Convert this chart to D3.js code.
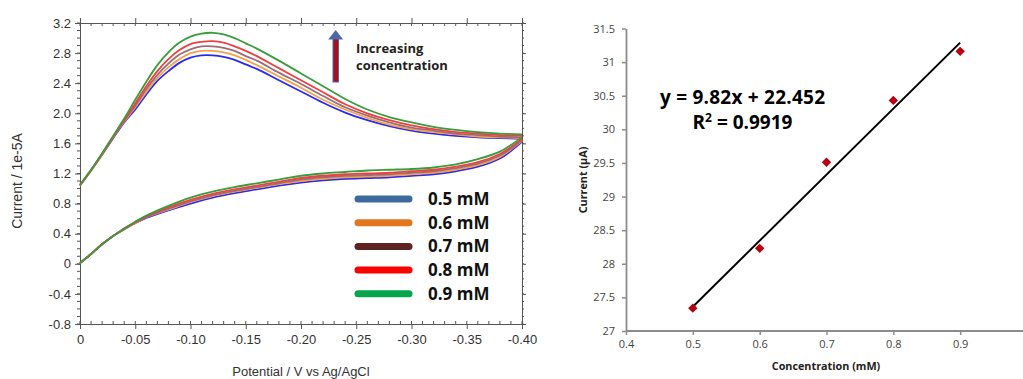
<!DOCTYPE html>
<html>
<head>
<meta charset="utf-8">
<script src="https://cdn.jsdelivr.net/npm/d3@7"></script>
<style>
  html, body { margin: 0; padding: 0; background: #fff; }
  svg { display: block; }
</style>
</head>
<body>
<svg id="fig" width="1023" height="379"></svg>
<script>
// ---------- Cyclic voltammograms (left panel) ----------
const concentrations = ["0.5 mM", "0.6 mM", "0.7 mM", "0.8 mM", "0.9 mM"];

// forward (anodic) sweep potentials, V
const forwardPotential = [0, -0.01, -0.02, -0.03, -0.04, -0.05, -0.06, -0.07, -0.08, -0.09, -0.10,
  -0.11, -0.12, -0.13, -0.14, -0.15, -0.16, -0.18, -0.20, -0.22, -0.24, -0.26, -0.28, -0.30,
  -0.32, -0.34, -0.36, -0.38, -0.40];
// reverse sweep potentials, V
const reversePotential = [-0.40, -0.39, -0.38, -0.36, -0.34, -0.32, -0.30, -0.28, -0.26, -0.24,
  -0.22, -0.20, -0.18, -0.16, -0.14, -0.12, -0.10, -0.08, -0.06, -0.05, -0.04, -0.03, -0.02, -0.01, 0];

// current, 1e-5 A, forward sweep
const forward05 = [1.04, 1.24, 1.45, 1.67, 1.88, 2.05, 2.25, 2.43, 2.56, 2.67, 2.74, 2.77, 2.77, 2.75, 2.71, 2.65, 2.59, 2.44, 2.29, 2.14, 2.01, 1.91, 1.83, 1.77, 1.73, 1.70, 1.68, 1.67, 1.66];
const forward06 = [1.04, 1.24, 1.45, 1.68, 1.89, 2.08, 2.28, 2.47, 2.61, 2.72, 2.80, 2.83, 2.83, 2.81, 2.77, 2.71, 2.64, 2.49, 2.34, 2.18, 2.05, 1.94, 1.85, 1.79, 1.75, 1.72, 1.69, 1.68, 1.67];
const forward07 = [1.04, 1.24, 1.46, 1.68, 1.90, 2.10, 2.32, 2.51, 2.66, 2.78, 2.85, 2.89, 2.89, 2.87, 2.83, 2.76, 2.70, 2.54, 2.39, 2.23, 2.08, 1.97, 1.88, 1.81, 1.77, 1.73, 1.71, 1.69, 1.68];
const forward08 = [1.05, 1.25, 1.46, 1.69, 1.91, 2.13, 2.36, 2.56, 2.72, 2.84, 2.92, 2.95, 2.96, 2.94, 2.89, 2.83, 2.76, 2.60, 2.44, 2.28, 2.12, 2.00, 1.91, 1.84, 1.79, 1.75, 1.73, 1.71, 1.70];
const forward09 = [1.05, 1.25, 1.47, 1.70, 1.93, 2.18, 2.42, 2.64, 2.81, 2.94, 3.02, 3.06, 3.07, 3.05, 3.00, 2.93, 2.86, 2.70, 2.53, 2.36, 2.19, 2.05, 1.95, 1.88, 1.82, 1.78, 1.75, 1.73, 1.72];

// current, 1e-5 A, reverse sweep
const reverse05 = [1.62, 1.50, 1.40, 1.29, 1.23, 1.19, 1.17, 1.15, 1.14, 1.13, 1.11, 1.08, 1.04, 0.99, 0.94, 0.88, 0.80, 0.71, 0.61, 0.54, 0.46, 0.37, 0.26, 0.13, 0.01];
const reverse06 = [1.63, 1.52, 1.42, 1.31, 1.25, 1.21, 1.19, 1.17, 1.16, 1.15, 1.13, 1.10, 1.06, 1.01, 0.96, 0.90, 0.82, 0.72, 0.62, 0.54, 0.46, 0.37, 0.26, 0.13, 0.01];
const reverse07 = [1.64, 1.53, 1.44, 1.33, 1.27, 1.23, 1.21, 1.19, 1.18, 1.17, 1.15, 1.12, 1.07, 1.02, 0.97, 0.91, 0.83, 0.73, 0.62, 0.55, 0.46, 0.37, 0.26, 0.13, 0.01];
const reverse08 = [1.66, 1.55, 1.46, 1.35, 1.29, 1.25, 1.23, 1.21, 1.20, 1.19, 1.17, 1.14, 1.09, 1.04, 0.99, 0.93, 0.85, 0.75, 0.63, 0.55, 0.47, 0.37, 0.26, 0.13, 0.01];
const reverse09 = [1.68, 1.58, 1.49, 1.39, 1.32, 1.28, 1.26, 1.25, 1.24, 1.22, 1.20, 1.17, 1.12, 1.07, 1.02, 0.96, 0.88, 0.77, 0.64, 0.56, 0.47, 0.37, 0.26, 0.13, 0.01];

const cvTickLabelsX = ["0", "-0.05", "-0.10", "-0.15", "-0.20", "-0.25", "-0.30", "-0.35", "-0.40"];
const cvTickLabelsY = ["-0.8", "-0.4", "0", "0.4", "0.8", "1.2", "1.6", "2.0", "2.4", "2.8", "3.2"];

// ---------- Calibration (right panel) ----------
const calConcentration = [0.5, 0.6, 0.7, 0.8, 0.9];   // mM
const calCurrent = [27.34, 28.23, 29.51, 30.43, 31.16]; // µA
const fitSlope = 9.82;
const fitIntercept = 22.452;
const fitR2 = "0.9919";
const calTickLabelsX = ["0.4", "0.5", "0.6", "0.7", "0.8", "0.9"];
const calTickLabelsY = ["27", "27.5", "28", "28.5", "29", "29.5", "30", "30.5", "31", "31.5"];

// ================================================================
const svg = d3.select("#fig");

// ---------------- left panel ----------------
const curveColors = ["#2a2af2", "#f2a24a", "#9c6c78", "#ee4040", "#3a9c3a"];
const legendColors = ["#3d6a9c", "#e2761f", "#5e2222", "#ff0000", "#05a54c"];
const forwardSets = [forward05, forward06, forward07, forward08, forward09];
const reverseSets = [reverse05, reverse06, reverse07, reverse08, reverse09];

const xL = d3.scaleLinear().domain([0, -0.40]).range([80, 522]);
const yL = d3.scaleLinear().domain([-0.8, 3.2]).range([324, 23]);
const axisColor = "#555";
const cvFont = "'Liberation Sans', Arial, sans-serif";

const left = svg.append("g");

const xMajor = cvTickLabelsX.map(s => +s);
const yMajor = cvTickLabelsY.map(s => +s);
const xMinor = d3.range(0, 41).map(i => -i * 0.01);
const yMinor = d3.range(0, 41).map(i => -0.8 + i * 0.1);

// bottom axis
const bottomAxis = left.append("g").attr("transform", `translate(0,${yL(-0.8)})`)
  .call(d3.axisBottom(xL).tickValues(xMajor).tickSize(5)
    .tickFormat((d, i) => cvTickLabelsX[i]).tickPadding(4));
bottomAxis.selectAll("text").attr("font-size", 13).attr("font-family", cvFont).attr("fill", "#333").attr("dy", "0.85em");
left.append("g").selectAll("line").data(xMinor).join("line")
  .attr("x1", d => xL(d)).attr("x2", d => xL(d))
  .attr("y1", yL(-0.8)).attr("y2", yL(-0.8) - 3)
  .attr("stroke", axisColor);

// top axis
left.append("g").attr("transform", `translate(0,${yL(3.2)})`)
  .call(d3.axisTop(xL).tickValues(xMajor).tickSize(5).tickFormat(""));
left.append("g").selectAll("line").data(xMinor).join("line")
  .attr("x1", d => xL(d)).attr("x2", d => xL(d))
  .attr("y1", yL(3.2)).attr("y2", yL(3.2) + 3)
  .attr("stroke", axisColor);

// left axis
const leftAxis = left.append("g").attr("transform", `translate(${xL(0)},0)`)
  .call(d3.axisLeft(yL).tickValues(yMajor).tickSize(5)
    .tickFormat((d, i) => cvTickLabelsY[i]).tickPadding(4));
leftAxis.selectAll("text").attr("font-size", 13).attr("font-family", cvFont).attr("fill", "#333");
left.append("g").selectAll("line").data(yMinor).join("line")
  .attr("x1", xL(0)).attr("x2", xL(0) - 3)
  .attr("y1", d => yL(d)).attr("y2", d => yL(d))
  .attr("stroke", axisColor);

// right axis
left.append("g").attr("transform", `translate(${xL(-0.40)},0)`)
  .call(d3.axisRight(yL).tickValues(yMajor).tickSize(4).tickFormat(""));
left.append("g").selectAll("line").data(yMinor).join("line")
  .attr("x1", xL(-0.40)).attr("x2", xL(-0.40) + 2)
  .attr("y1", d => yL(d)).attr("y2", d => yL(d))
  .attr("stroke", axisColor);

left.selectAll(".domain").attr("stroke", axisColor);
left.selectAll(".tick line").attr("stroke", axisColor);

// voltammograms
const cvLine = d3.line().x(d => xL(d[0])).y(d => yL(d[1])).curve(d3.curveCatmullRom.alpha(0.5));
const traces = left.append("g").attr("fill", "none").attr("stroke-width", 1.8);
forwardSets.forEach((vals, i) => {
  const pts = forwardPotential.map((v, k) => [v, vals[k]]);
  traces.append("path").attr("d", cvLine(pts)).attr("stroke", curveColors[i]);
});
reverseSets.forEach((vals, i) => {
  const pts = reversePotential.map((v, k) => [v, vals[k]]);
  traces.append("path").attr("d", cvLine(pts)).attr("stroke", curveColors[i]);
});

// axis titles
left.append("text").attr("x", (xL(0) + xL(-0.40)) / 2).attr("y", 376)
  .attr("text-anchor", "middle").attr("font-family", cvFont).attr("font-size", 13)
  .attr("fill", "#333").text("Potential / V vs Ag/AgCl");
left.append("text").attr("transform", "translate(22,181) rotate(-90)")
  .attr("text-anchor", "middle").attr("font-family", cvFont).attr("font-size", 14)
  .attr("fill", "#333").text("Current / 1e-5A");

// legend
const legend = left.append("g");
concentrations.forEach((c, i) => {
  const y = 199 + i * 23.7;
  legend.append("line").attr("x1", 358).attr("x2", 409).attr("y1", y).attr("y2", y)
    .attr("stroke", legendColors[i]).attr("stroke-width", 7).attr("stroke-linecap", "round");
  legend.append("text").attr("x", 428).attr("y", y + 6)
    .attr("font-family", "'Open Sans', sans-serif").attr("font-weight", 700).attr("font-size", 17)
    .attr("fill", "#111").text(c);
});

// "increasing concentration" arrow
const arrow = left.append("g");
arrow.append("rect").attr("x", 333).attr("y", 38).attr("width", 5.5).attr("height", 44)
  .attr("fill", "#a5101e").attr("stroke", "#4a68a8").attr("stroke-width", 1);
arrow.append("path").attr("d", "M335.7,30 L343.2,39.5 L328.2,39.5 Z").attr("fill", "#4a68a8");
arrow.append("text").attr("x", 356).attr("y", 53)
  .attr("font-family", "'Open Sans', sans-serif").attr("font-weight", 700).attr("font-size", 13)
  .attr("fill", "#222").text("Increasing");
arrow.append("text").attr("x", 356).attr("y", 70)
  .attr("font-family", "'Open Sans', sans-serif").attr("font-weight", 700).attr("font-size", 13)
  .attr("fill", "#222").text("concentration");

// ---------------- right panel ----------------
const xR = d3.scaleLinear().domain([0.4, 1.0]).range([626, 1027]);
const yR = d3.scaleLinear().domain([27, 31.5]).range([331, 28.5]);
const calFont = "'Open Sans', sans-serif";
const gridGray = "#8c8c8c";
const right = svg.append("g");

const rx = right.append("g").attr("transform", `translate(0,${yR(27)})`)
  .call(d3.axisBottom(xR).tickValues(calTickLabelsX.map(s => +s)).tickSize(4)
    .tickFormat((d, i) => calTickLabelsX[i]).tickPadding(5).tickSizeOuter(0));
rx.select(".domain").attr("d", `M${xR(0.4)},0H1023`);
rx.selectAll("text").attr("font-family", calFont).attr("font-size", 11).attr("fill", "#444");

const ry = right.append("g").attr("transform", `translate(${xR(0.4)},0)`)
  .call(d3.axisLeft(yR).tickValues(calTickLabelsY.map(s => +s)).tickSize(4)
    .tickFormat((d, i) => calTickLabelsY[i]).tickPadding(7).tickSizeOuter(0));
ry.selectAll("text").attr("font-family", calFont).attr("font-size", 11).attr("fill", "#444");
right.selectAll(".domain").attr("stroke", gridGray).attr("stroke-width", 1.8);
right.selectAll(".tick line").attr("stroke", gridGray).attr("stroke-width", 1.5);

// linear fit
right.append("line")
  .attr("x1", xR(calConcentration[0])).attr("y1", yR(fitSlope * calConcentration[0] + fitIntercept))
  .attr("x2", xR(calConcentration[4])).attr("y2", yR(fitSlope * calConcentration[4] + fitIntercept))
  .attr("stroke", "#000").attr("stroke-width", 2);

// measured points
right.append("g").selectAll("path").data(calConcentration).join("path")
  .attr("transform", (d, i) => `translate(${xR(d)},${yR(calCurrent[i])}) rotate(45)`)
  .attr("d", d3.symbol(d3.symbolSquare, 44)())
  .attr("fill", "#b8000f");

// fit annotation
right.append("text").attr("x", 742.5).attr("y", 103.5).attr("text-anchor", "middle")
  .attr("font-family", calFont).attr("font-weight", 700).attr("font-size", 19)
  .attr("textLength", 165).attr("lengthAdjust", "spacing")
  .attr("fill", "#000").text(`y = ${fitSlope}x + ${fitIntercept}`);
const r2 = right.append("text").attr("x", 742.5).attr("y", 128.5).attr("text-anchor", "middle")
  .attr("font-family", calFont).attr("font-weight", 700).attr("font-size", 19)
  .attr("fill", "#000");
r2.append("tspan").text("R");
r2.append("tspan").attr("font-size", 12).attr("dy", -7).text("2");
r2.append("tspan").attr("dy", 7).text(` = ${fitR2}`);

// axis titles
right.append("text").attr("x", 826).attr("y", 370).attr("text-anchor", "middle")
  .attr("font-family", calFont).attr("font-weight", 700).attr("font-size", 10.8)
  .attr("fill", "#222").text("Concentration (mM)");
right.append("text").attr("transform", "translate(587,180) rotate(-90)").attr("text-anchor", "middle")
  .attr("font-family", calFont).attr("font-weight", 700).attr("font-size", 10.8)
  .attr("fill", "#222").text("Current (µA)");
</script>
</body>
</html>
